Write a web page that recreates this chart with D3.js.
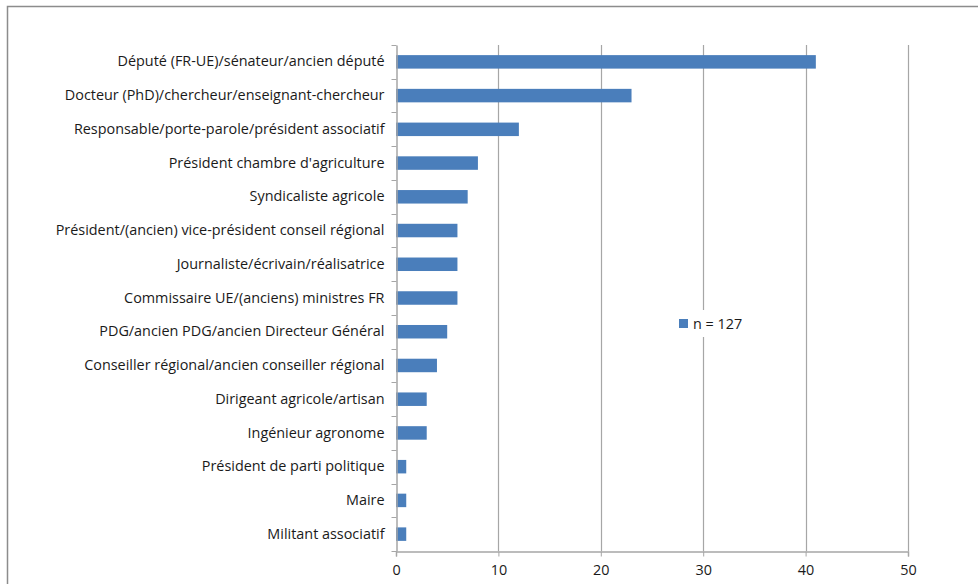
<!DOCTYPE html>
<html><head><meta charset="utf-8">
<script src="https://cdn.jsdelivr.net/npm/d3@7"></script>
<style>html,body{margin:0;padding:0;background:#fff;} svg{display:block;}</style>
</head><body>
<script>
const categories = [
  "Député (FR-UE)/sénateur/ancien député",
  "Docteur (PhD)/chercheur/enseignant-chercheur",
  "Responsable/porte-parole/président associatif",
  "Président chambre d'agriculture",
  "Syndicaliste agricole",
  "Président/(ancien) vice-président conseil régional",
  "Journaliste/écrivain/réalisatrice",
  "Commissaire UE/(anciens) ministres FR",
  "PDG/ancien PDG/ancien Directeur Général",
  "Conseiller régional/ancien conseiller régional",
  "Dirigeant agricole/artisan",
  "Ingénieur agronome",
  "Président de parti politique",
  "Maire",
  "Militant associatif"
];
const values = [41, 23, 12, 8, 7, 6, 6, 6, 5, 4, 3, 3, 1, 1, 1];
const xTicks = [0, 10, 20, 30, 40, 50];
const seriesName = "n = 127";

const W = 978, H = 584;
const m = {left: 396, right: 70, top: 45, bottom: 33};
const font = "'Open Sans', sans-serif";
const fs = 14.4;

const svg = d3.select("body").append("svg").attr("width", W).attr("height", H);

// outer frame
svg.append("path").attr("d", `M7.5,${H} L7.5,6.5 L${W},6.5`)
  .attr("fill", "none").attr("stroke", "#8c8c8c").attr("stroke-width", 1.5);

const x = d3.scaleLinear().domain([0, 50]).range([m.left, 908]);
const y = d3.scaleBand().domain(categories).range([m.top, H - m.bottom]).paddingInner(0.6).paddingOuter(0.3);
const yb = d3.scaleBand().domain(categories).range([m.top, H - m.bottom]);

// gridlines
svg.append("g").selectAll("line").data(xTicks.slice(1)).join("line")
  .attr("x1", d => Math.round(x(d)) + 0.5).attr("x2", d => Math.round(x(d)) + 0.5)
  .attr("y1", m.top).attr("y2", H - m.bottom)
  .attr("stroke", "#a6a6a6").attr("stroke-width", 1.2);

// bars
svg.append("g").selectAll("rect").data(categories).join("rect")
  .attr("x", x(0)).attr("y", d => y(d))
  .attr("width", (d, i) => x(values[i]) - x(0))
  .attr("height", y.bandwidth())
  .attr("fill", "#4a7ebb");

// x axis
const xa = svg.append("g").attr("transform", `translate(0,${H - m.bottom + 0.5})`)
  .call(d3.axisBottom(x).tickValues(xTicks).tickSize(5).tickPadding(8));
xa.select(".domain").attr("stroke", "#a6a6a6").attr("stroke-width", 1.5);
xa.selectAll(".tick line").attr("stroke", "#a6a6a6");
xa.selectAll("text").attr("font-family", font).attr("font-size", fs).attr("fill", "#1a1a1a");

// y axis
const ya = svg.append("g").attr("transform", `translate(${m.left + 0.5},0)`)
  .call(d3.axisLeft(yb).tickSize(0).tickPadding(12));
ya.select(".domain").attr("stroke", "#a6a6a6").attr("stroke-width", 1.5);
ya.selectAll("text").attr("font-family", font).attr("font-size", fs).attr("fill", "#1a1a1a");
// boundary ticks
const bounds = categories.map(c => yb(c)).concat([H - m.bottom]);
ya.append("g").selectAll("line").data(bounds).join("line")
  .attr("x1", -5).attr("x2", 0).attr("y1", d => Math.round(d) + 0.5).attr("y2", d => Math.round(d) + 0.5)
  .attr("stroke", "#a6a6a6");

// legend
const lg = svg.append("g").attr("transform", "translate(672,310)");
lg.append("rect").attr("width", 88).attr("height", 27).attr("fill", "#fff");
lg.append("rect").attr("x", 7).attr("y", 9).attr("width", 9).attr("height", 9).attr("fill", "#4a7ebb");
lg.append("text").attr("x", 21).attr("y", 14).attr("dy", "0.35em")
  .attr("font-family", font).attr("font-size", fs).attr("fill", "#1a1a1a").text(seriesName);
</script>
</body></html>
